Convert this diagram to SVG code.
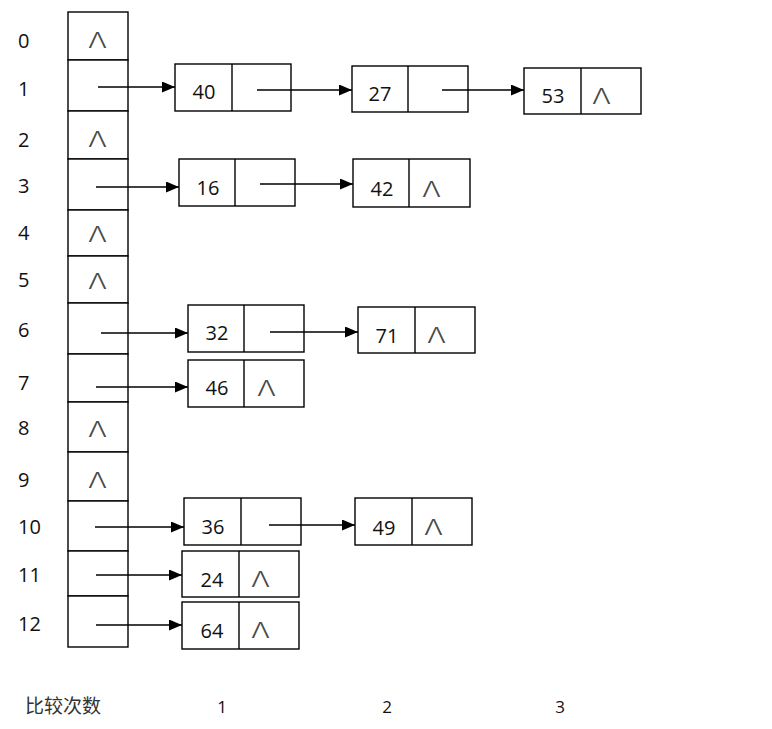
<svg xmlns="http://www.w3.org/2000/svg" width="772" height="729" viewBox="0 0 772 729">
<style>
.cell{fill:#fff;stroke:#000;stroke-width:1.4}
.div{stroke:#000;stroke-width:1.4}
.idx{font-family:"Open Sans","Liberation Sans",Arial,sans-serif;font-size:20px;font-weight:500;fill:#111}
.num{font-family:"Open Sans","Liberation Sans",Arial,sans-serif;font-size:20px;font-weight:500;fill:#111;text-anchor:middle}
.nil{font-family:Inter,"Liberation Sans",Arial,sans-serif;font-size:21px;font-weight:300;fill:#4a4a4a}
.foot{font-family:"Liberation Sans","Noto Sans CJK SC",sans-serif;font-size:19px;fill:#333}
.cnt{font-family:"Open Sans","Liberation Sans",Arial,sans-serif;font-size:17px;font-weight:500;fill:#111;text-anchor:middle}
.arr{stroke:#000;stroke-width:1.4;fill:none;marker-end:url(#ah)}
</style>
<defs>
<marker id="ah" viewBox="0 0 13 11" refX="13" refY="5.5" markerWidth="13" markerHeight="11" markerUnits="userSpaceOnUse" orient="auto">
<path d="M0,0 L13,5.5 L0,11 z" fill="#000"/>
</marker>
</defs>
<rect width="772" height="729" fill="#fff"/>

<g id="table">
<g id="slot-0"><rect class="cell" x="68" y="12" width="60" height="48"/><text class="idx" x="18" y="48">0</text><text class="nil" x="88" y="48" textLength="19" lengthAdjust="spacingAndGlyphs">Λ</text></g>
<g id="slot-1"><rect class="cell" x="68" y="60" width="60" height="51"/><text class="idx" x="18" y="96">1</text></g>
<g id="slot-2"><rect class="cell" x="68" y="111" width="60" height="48"/><text class="idx" x="18" y="147">2</text><text class="nil" x="88" y="147" textLength="19" lengthAdjust="spacingAndGlyphs">Λ</text></g>
<g id="slot-3"><rect class="cell" x="68" y="159" width="60" height="51"/><text class="idx" x="18" y="193">3</text></g>
<g id="slot-4"><rect class="cell" x="68" y="210" width="60" height="46"/><text class="idx" x="18" y="240">4</text><text class="nil" x="88" y="242" textLength="19" lengthAdjust="spacingAndGlyphs">Λ</text></g>
<g id="slot-5"><rect class="cell" x="68" y="256" width="60" height="47"/><text class="idx" x="18" y="287">5</text><text class="nil" x="88" y="289" textLength="19" lengthAdjust="spacingAndGlyphs">Λ</text></g>
<g id="slot-6"><rect class="cell" x="68" y="303" width="60" height="51"/><text class="idx" x="18" y="337">6</text></g>
<g id="slot-7"><rect class="cell" x="68" y="354" width="60" height="48"/><text class="idx" x="18" y="390">7</text></g>
<g id="slot-8"><rect class="cell" x="68" y="402" width="60" height="50"/><text class="idx" x="18" y="435">8</text><text class="nil" x="88" y="437" textLength="19" lengthAdjust="spacingAndGlyphs">Λ</text></g>
<g id="slot-9"><rect class="cell" x="68" y="452" width="60" height="49"/><text class="idx" x="18" y="487">9</text><text class="nil" x="88" y="488" textLength="19" lengthAdjust="spacingAndGlyphs">Λ</text></g>
<g id="slot-10"><rect class="cell" x="68" y="501" width="60" height="50"/><text class="idx" x="18" y="534">10</text></g>
<g id="slot-11"><rect class="cell" x="68" y="551" width="60" height="45"/><text class="idx" x="18" y="582">11</text></g>
<g id="slot-12"><rect class="cell" x="68" y="596" width="60" height="51"/><text class="idx" x="18" y="631">12</text></g>
</g>

<g id="node-40"><rect class="cell" x="175" y="64" width="116" height="47"/><line class="div" x1="232" y1="64" x2="232" y2="111"/><text class="num" x="204" y="99">40</text></g>
<g id="node-27"><rect class="cell" x="352" y="66" width="116" height="46"/><line class="div" x1="408" y1="66" x2="408" y2="112"/><text class="num" x="380" y="101">27</text></g>
<g id="node-53"><rect class="cell" x="524" y="68" width="117" height="46"/><line class="div" x1="581" y1="68" x2="581" y2="114"/><text class="num" x="553" y="103">53</text><text class="nil" x="592" y="104" textLength="19" lengthAdjust="spacingAndGlyphs">Λ</text></g>
<g id="node-16"><rect class="cell" x="179" y="159" width="116" height="47"/><line class="div" x1="235" y1="159" x2="235" y2="206"/><text class="num" x="208" y="195">16</text></g>
<g id="node-42"><rect class="cell" x="353" y="159" width="117" height="48"/><line class="div" x1="409" y1="159" x2="409" y2="207"/><text class="num" x="382" y="196">42</text><text class="nil" x="422" y="197" textLength="19" lengthAdjust="spacingAndGlyphs">Λ</text></g>
<g id="node-32"><rect class="cell" x="188" y="305" width="116" height="47"/><line class="div" x1="244" y1="305" x2="244" y2="352"/><text class="num" x="217" y="340">32</text></g>
<g id="node-71"><rect class="cell" x="358" y="307" width="117" height="46"/><line class="div" x1="415" y1="307" x2="415" y2="353"/><text class="num" x="387" y="343">71</text><text class="nil" x="427" y="343" textLength="19" lengthAdjust="spacingAndGlyphs">Λ</text></g>
<g id="node-46"><rect class="cell" x="188" y="360" width="116" height="47"/><line class="div" x1="244" y1="360" x2="244" y2="407"/><text class="num" x="217" y="395">46</text><text class="nil" x="257" y="396" textLength="19" lengthAdjust="spacingAndGlyphs">Λ</text></g>
<g id="node-36"><rect class="cell" x="184" y="498" width="117" height="47"/><line class="div" x1="241" y1="498" x2="241" y2="545"/><text class="num" x="213" y="534">36</text></g>
<g id="node-49"><rect class="cell" x="355" y="498" width="117" height="47"/><line class="div" x1="412" y1="498" x2="412" y2="545"/><text class="num" x="384" y="535">49</text><text class="nil" x="424" y="535" textLength="19" lengthAdjust="spacingAndGlyphs">Λ</text></g>
<g id="node-24"><rect class="cell" x="182" y="551" width="117" height="46"/><line class="div" x1="239" y1="551" x2="239" y2="597"/><text class="num" x="212" y="587">24</text><text class="nil" x="251" y="587" textLength="19" lengthAdjust="spacingAndGlyphs">Λ</text></g>
<g id="node-64"><rect class="cell" x="182" y="602" width="117" height="47"/><line class="div" x1="239" y1="602" x2="239" y2="649"/><text class="num" x="212" y="638">64</text><text class="nil" x="251" y="638" textLength="19" lengthAdjust="spacingAndGlyphs">Λ</text></g>

<g id="connectors">
<line class="arr" x1="98" y1="87" x2="175" y2="87"/>
<line class="arr" x1="257" y1="90" x2="352" y2="90"/>
<line class="arr" x1="442" y1="90" x2="524" y2="90"/>
<line class="arr" x1="96" y1="187" x2="179" y2="187"/>
<line class="arr" x1="260" y1="184" x2="353" y2="184"/>
<line class="arr" x1="101" y1="333" x2="188" y2="333"/>
<line class="arr" x1="270" y1="332" x2="358" y2="332"/>
<line class="arr" x1="96" y1="387" x2="188" y2="387"/>
<line class="arr" x1="95" y1="527" x2="184" y2="527"/>
<line class="arr" x1="269" y1="525" x2="355" y2="525"/>
<line class="arr" x1="96" y1="575" x2="182" y2="575"/>
<line class="arr" x1="96" y1="625" x2="182" y2="625"/>
</g>

<g id="footer">
<text class="foot" x="25" y="713">比较次数</text>
<text class="cnt" x="222" y="713">1</text>
<text class="cnt" x="387" y="713">2</text>
<text class="cnt" x="560" y="713">3</text>
</g>
</svg>
